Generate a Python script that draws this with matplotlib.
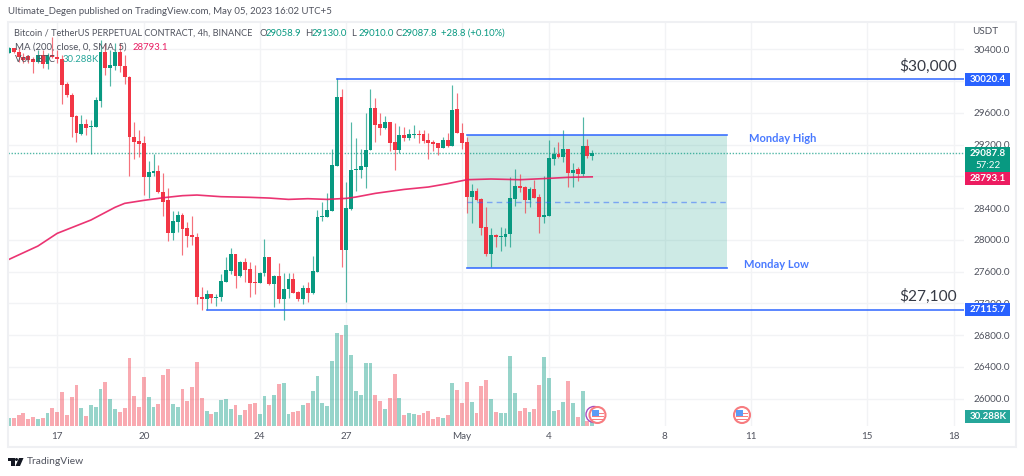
import matplotlib
matplotlib.use("Agg")
import matplotlib.pyplot as plt
from matplotlib.patches import Circle, Polygon, Rectangle
from matplotlib.transforms import Affine2D

plt.rcParams['font.family'] = ['Lato', 'DejaVu Sans']

# 4h candles, bar 0 is the first one on screen
opens = [30357, 30412, 30370, 30299, 30315, 30273, 30244, 30328, 30210, 30328,
         30307, 30273, 29963, 29824, 29559, 29333, 29459, 29417, 29421, 29753,
         30370, 30168, 30189, 30370, 30194, 30055, 29291, 29244, 29215, 28787,
         28845, 28866, 28598, 28501, 28089, 28228, 28312, 28148, 28056, 28039,
         27279, 27254, 27312, 27266, 27275, 27472, 27606, 27816, 27548, 27716,
         27632, 27468, 27459, 27577, 27783, 27438, 27543, 27258, 27375, 27501,
         27342, 27254, 27392, 27325, 27598, 28283, 28291, 28362, 28934, 29803,
         27867, 28392, 28875, 28875, 28917, 29131, 29660, 29459, 29404, 29480,
         29228, 29131, 29316, 29286, 29324, 29337, 29328, 29257, 29228, 29215,
         29156, 29257, 29177, 29648, 29345, 29228, 28543, 28610, 28509, 28157,
         27825, 28056, 28031, 28039, 28073, 28514, 28682, 28661, 28501, 28644,
         28539, 28291, 28299, 29018, 29085, 29043, 29144, 28845, 28887, 28824,
         29186, 29058.9]
highs = [30433, 30420, 30433, 30349, 30328, 30307, 30391, 30391, 30349, 30559,
         30391, 30328, 29992, 29845, 29572, 29572, 29517, 29509, 29795, 30517,
         30475, 30391, 30475, 30475, 30328, 30063, 29488, 29383, 29307, 28992,
         29081, 28942, 28837, 28648, 28362, 28367, 28333, 28228, 28299, 28081,
         27401, 27367, 27317, 27312, 27564, 27787, 27892, 27816, 27732, 27766,
         27724, 27682, 27598, 28005, 27787, 27556, 27703, 27581, 27585, 27585,
         27350, 27430, 27472, 27795, 28375, 28480, 28585, 29144, 30034, 29900,
         28732, 29480, 29278, 29139, 29593, 29900, 29782, 29593, 29559, 29488,
         29467, 29433, 29417, 29391, 29446, 29383, 29383, 29341, 29257, 29223,
         29299, 29341, 29950, 29853, 29467, 29299, 28703, 28648, 28522, 28409,
         28144, 28073, 28157, 28144, 28787, 28892, 28829, 28677, 28661, 28753,
         28577, 28803, 29257, 29173, 29228, 29379, 29144, 28963, 28921, 29551,
         29270, 29130]
lows = [30349, 30349, 30244, 30223, 30223, 30105, 30223, 30160, 30147, 30286,
        30223, 29711, 29803, 29291, 29228, 29320, 29320, 29081, 29421, 29677,
        30076, 29937, 30139, 30118, 29963, 28808, 29018, 29039, 28564, 28522,
        28803, 28585, 28304, 27989, 27997, 28102, 27808, 27913, 27934, 27191,
        27115, 27115, 27207, 27170, 27233, 27472, 27569, 27396, 27535, 27472,
        27283, 27312, 27451, 27543, 27430, 27157, 27207, 26989, 27262, 27325,
        27233, 27186, 27212, 27317, 27598, 28241, 28291, 28362, 28934, 27661,
        27212, 28375, 28619, 28774, 28656, 29131, 29236, 29320, 29391, 29118,
        28879, 29089, 29249, 29257, 29278, 29223, 29215, 29013, 29123, 29068,
        29152, 29165, 29177, 29341, 29144, 28341, 28215, 28493, 28060, 27795,
        27653, 27913, 27863, 27926, 27913, 28425, 28606, 28333, 28417, 28522,
        28089, 28215, 28299, 28946, 29026, 28976, 28661, 28669, 28736, 28803,
        29026, 29010]
closes = [30420, 30362, 30299, 30265, 30265, 30240, 30328, 30210, 30328, 30299,
          30273, 29954, 29824, 29551, 29341, 29459, 29408, 29429, 29761, 30370,
          30160, 30202, 30370, 30189, 30055, 29291, 29236, 29207, 28787, 28850,
          28866, 28598, 28480, 28089, 28241, 28312, 28140, 28047, 28031, 27275,
          27258, 27312, 27262, 27279, 27480, 27615, 27816, 27548, 27716, 27623,
          27459, 27459, 27581, 27783, 27438, 27543, 27258, 27380, 27501, 27333,
          27254, 27388, 27325, 27606, 28287, 28299, 28371, 28942, 29803, 27867,
          28400, 28883, 28892, 28925, 29135, 29660, 29450, 29412, 29480, 29219,
          29131, 29316, 29286, 29328, 29337, 29324, 29249, 29219, 29211, 29156,
          29257, 29177, 29639, 29341, 29219, 28543, 28610, 28501, 28148, 27825,
          28056, 28031, 28047, 28077, 28522, 28682, 28652, 28501, 28644, 28530,
          28291, 28312, 29026, 29085, 29043, 29144, 28845, 28883, 28824, 29181,
          29051, 29087.8]
volumes = [24, 24, 32, 38, 22, 27, 22, 24, 38, 55,
           41, 103, 32, 86, 122, 53, 29, 62, 56, 110,
           133, 82, 50, 41, 55, 205, 91, 58, 146, 86,
           56, 65, 152, 170, 65, 56, 110, 74, 118, 192,
           84, 44, 36, 41, 77, 80, 50, 62, 32, 48,
           65, 70, 36, 91, 62, 94, 125, 130, 36, 41,
           44, 62, 70, 106, 149, 68, 60, 195, 278, 272,
           303, 212, 104, 92, 190, 188, 92, 74, 50, 83,
           157, 85, 33, 38, 36, 33, 38, 46, 20, 26,
           24, 33, 130, 108, 70, 132, 72, 38, 120, 137,
           80, 43, 38, 38, 211, 100, 45, 55, 43, 50,
           124, 208, 144, 45, 48, 72, 134, 70, 28, 106,
           15, 30.288]

# 200 period moving average, read at these bars
ma_bars = [0, 6, 10, 17, 22, 24, 28, 32, 36, 39, 44, 50, 54, 58, 62, 66,
           70, 72, 76, 82, 87, 91, 95, 100, 106, 112, 116, 121]
ma_vals = [27753, 27921, 28081, 28249, 28409, 28459, 28497, 28530, 28556, 28564,
           28543, 28535, 28526, 28509, 28518, 28509, 28522, 28539, 28585, 28635,
           28665, 28707, 28757, 28766, 28757, 28774, 28787, 28793.1]

price_ticks = [26000, 26400, 26800, 27200, 27600, 28000, 28400, 28800, 29200, 29600, 30000, 30400]
# 28800 and 30000 sit fully behind the price boxes, only their grid lines show
price_labels = ['' if p in (28800, 30000) else f'{p:.1f}' for p in price_ticks]
date_bars = [10, 28, 52, 70, 94, 112, 136, 154, 178, 196]
date_labels = ['17', '20', '24', '27', 'May', '4', '8', '11', '15', '18']

level_high = 30020.4
level_low = 27115.7
monday_high = 29316
monday_low = 27644
monday_mid = 28480
ma_last = 28793.1

green = '#089981'
red = '#f23645'
blue = '#2962ff'
grey = '#50535e'
grid = '#f2f3f5'

fig = plt.figure(figsize=(10.24, 4.76), dpi=100, facecolor='white')
# pixel coordinates with origin top left, for the furniture around the plot
PX = Affine2D().scale(1, -1).translate(0, 476)

ax = fig.add_axes([8 / 1024, 50 / 476, 956 / 1024, 404 / 476])
ax.set_xlim(-0.2, 198.13)
ax.set_ylim(25654, 30744)
ax.set_yticks(price_ticks)
ax.set_yticklabels(price_labels, color=grey, fontsize=7.1)
ax.set_xticks(date_bars)
ax.set_xticklabels(date_labels, color=grey, fontsize=7.1)
ax.tick_params(length=0, axis='y', pad=7)
ax.tick_params(length=0, axis='x', pad=4)
ax.grid(True, color=grid, lw=1)
ax.set_axisbelow(True)
for s in ax.spines.values():
    s.set_visible(False)

# candles
bars = range(len(opens))
colors = [green if c >= o else red for o, c in zip(opens, closes)]
ax.vlines(bars, lows, highs, colors=colors, lw=0.85, alpha=0.7, zorder=3)
ax.bar(bars, [abs(c - o) for o, c in zip(opens, closes)],
       bottom=[min(o, c) for o, c in zip(opens, closes)],
       width=0.8, color=colors, zorder=4, lw=0)

ax.plot(ma_bars, ma_vals, color='#e91e63', lw=1.2, alpha=0.9, zorder=5)
ax.axhline(closes[-1], color=green, lw=1, ls=(0, (1, 1.2)), alpha=0.7, zorder=2)

# drawings
ax.add_patch(Rectangle((95, monday_low), 54, monday_high - monday_low,
                       facecolor=green, alpha=0.2, lw=0, zorder=1))
ax.plot([95, 149], [monday_high] * 2, color=blue, lw=1.2, alpha=0.9, zorder=6)
ax.plot([95, 149], [monday_low] * 2, color=blue, lw=1.2, alpha=0.9, zorder=6)
ax.plot([95, 149], [monday_mid] * 2, color=blue, lw=1, alpha=0.5, ls=(0, (4, 3)), zorder=6)
ax.plot([68, 198.13], [level_high] * 2, color=blue, lw=1.2, alpha=0.9, zorder=6)
ax.plot([41, 198.13], [level_low] * 2, color=blue, lw=1.2, alpha=0.9, zorder=6)

# volume pane shares the time axis
ax2 = ax.twinx()
ax2.set_ylim(0, 1212)
ax2.set_yticks([])
for s in ax2.spines.values():
    s.set_visible(False)
ax2.bar(bars, volumes, width=0.8, color=colors, alpha=0.42, lw=0)
ax.yaxis.tick_right()  # twinx moved them to the left


def label(x, y, s, color=grey, size=6.8, **kw):
    kw.setdefault('va', 'center')
    fig.text(x, y, s, transform=PX, color=color, fontsize=size, zorder=10, **kw)


def price_box(y0, y1, color):
    fig.add_artist(Rectangle((965, y0), 45, y1 - y0, transform=PX, facecolor=color, lw=0, zorder=9))


# outer frame
fig.add_artist(Rectangle((7.5, 21.5), 1008.5, 425.5, transform=PX, fill=False,
                         edgecolor='#eff0f3', lw=1.5, zorder=1))

label(8, 12, 'Ultimate_Degen published on TradingView.com, May 05, 2023 16:02 UTC+5', size=6.9)

label(14, 33, 'Bitcoin / TetherUS PERPETUAL CONTRACT, 4h, BINANCE', size=6.6)
for x, letter, val in [(259, 'O', '29058.9'), (305, 'H', '29130.0'),
                       (351.5, 'L', '29010.0'), (395, 'C', '29087.8')]:
    label(x, 33, letter)
    label(x + 7, 33, val, color=green)
label(441, 33, '+28.8 (+0.10%)', color=green)
label(15, 47, 'MA (200, close, 0, SMA, 5)', size=6.9)
label(133, 47, '28793.1', color='#e91e63')
label(15, 60, 'Vol · BTC', size=6.9)
label(63, 60, '30.288K', color='#26a69a')

label(972, 32, 'USDT', size=7.1)

price_box(73, 86, blue)
label(988, 79.5, f'{level_high:.1f}', color='white', size=7, ha='center', weight='bold')
price_box(147, 172, green)
label(988, 153.5, f'{closes[-1]:.1f}', color='white', size=7, ha='center', weight='bold')
label(988, 165.5, '57:22', color='white', size=7, ha='center')
price_box(172, 185, '#ec1c60')
label(988, 178.5, f'{ma_last:.1f}', color='white', size=7, ha='center', weight='bold')
price_box(303, 316, blue)
label(988, 309.5, f'{level_low:.1f}', color='white', size=7, ha='center', weight='bold')
price_box(410, 423, '#26a69a')
label(988, 416.5, '30.288K', color='white', size=7, ha='center', weight='bold')

label(957, 66, '$30,000', color='#363a45', size=11.2, ha='right')
label(957, 296, '$27,100', color='#363a45', size=11.2, ha='right')
label(749, 138, 'Monday High', color=blue, size=8, weight='bold', alpha=0.85)
label(744, 264, 'Monday Low', color=blue, size=8, weight='bold', alpha=0.85)


def flag(cx, cy):
    fig.add_artist(Circle((cx, cy), 8, transform=PX, facecolor='white', edgecolor='#f77c80', lw=1.5, zorder=7))
    for dy in (-2.5, 0.5, 3.5):
        fig.add_artist(Rectangle((cx - 6, cy + dy), 12, 1.6, transform=PX, facecolor='#f77c80', lw=0, zorder=8))
    fig.add_artist(Rectangle((cx - 6, cy - 5.5), 7, 6, transform=PX, facecolor='#5b9cf6', lw=0, zorder=8))


fig.add_artist(Circle((594, 414.5), 8, transform=PX, facecolor='white', edgecolor='#a64dc0', lw=1, zorder=6.5))
flag(597.5, 415)
flag(742, 415)

# TradingView logo
fig.add_artist(Polygon([(8, 458), (15, 458), (15, 466), (11, 466), (11, 461), (8, 461)],
                       transform=PX, facecolor='#131722', lw=0, zorder=8))
fig.add_artist(Circle((16.5, 459.5), 1.5, transform=PX, facecolor='#131722', lw=0, zorder=8))
fig.add_artist(Polygon([(19, 458), (23.5, 458), (20, 466), (15.5, 466)],
                       transform=PX, facecolor='#131722', lw=0, zorder=8))
label(27, 462, 'TradingView', size=7.4)

plt.savefig('out.png', dpi=100)
